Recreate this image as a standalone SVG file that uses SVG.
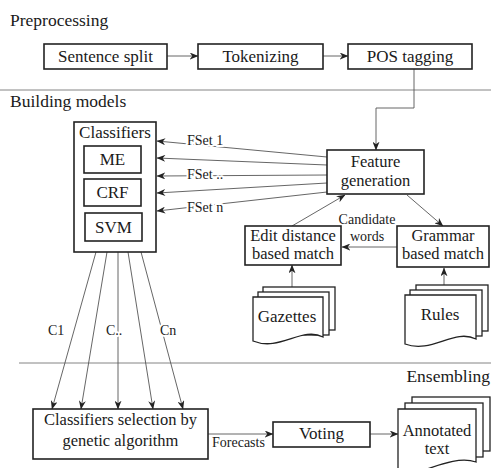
<svg xmlns="http://www.w3.org/2000/svg" width="491" height="468" viewBox="0 0 491 468" font-family="'Liberation Serif', 'DejaVu Serif', serif">
<style>
text{font-family:'Liberation Serif','DejaVu Serif',serif;fill:#1a1a1a}
.t{font-size:17px;text-anchor:middle}
.t2{font-size:16.5px;text-anchor:middle}
.h{font-size:17.5px}
.l{font-size:14px;paint-order:stroke;stroke:#fff;stroke-width:4px;stroke-linejoin:round}
.box{fill:#fff;stroke:#222;stroke-width:1.6}
.doc{fill:#fff;stroke:#222;stroke-width:1.3}
.c{fill:none;stroke:#555;stroke-width:0.9}
.a{marker-end:url(#ah)}
.sep{stroke:#777;stroke-width:0.9}
</style>
<defs>
<marker id="ah" viewBox="0 0 10 8" refX="9.5" refY="4" markerWidth="9" markerHeight="7" orient="auto" markerUnits="userSpaceOnUse">
<path d="M0,0 L10,4 L0,8 L3,4 Z" fill="#222"/>
</marker>
</defs>

<text class="h" x="10" y="26">Preprocessing</text>
<text class="h" x="10" y="107">Building models</text>
<text class="h" x="490" y="382" text-anchor="end">Ensembling</text>
<line class="sep" x1="0" y1="90" x2="491" y2="90"/>
<line class="sep" x1="19" y1="363" x2="491" y2="363"/>

<g id="connectors">
<line class="c a" x1="167" y1="56" x2="198" y2="56"/>
<line class="c a" x1="323" y1="56" x2="348" y2="56"/>
<polyline class="c a" points="414,69 414,108 376,108 376,150"/>
<line class="c a" x1="327" y1="157" x2="157" y2="141"/>
<line class="c a" x1="327" y1="165" x2="157" y2="158"/>
<line class="c a" x1="327" y1="175" x2="157" y2="176"/>
<line class="c a" x1="327" y1="183" x2="157" y2="193"/>
<line class="c a" x1="327" y1="192" x2="157" y2="211"/>
<text class="l" x="187" y="145">FSet 1</text>
<text class="l" x="187" y="179">FSet ..</text>
<text class="l" x="187" y="212">FSet n</text>
<line class="c a" x1="292" y1="226" x2="345" y2="195"/>
<line class="c a" x1="407" y1="195" x2="443" y2="226"/>
<line class="c a" x1="397" y1="247" x2="342" y2="247"/>
<text class="l" x="367" y="224" text-anchor="middle">Candidate</text>
<text class="l" x="367" y="241" text-anchor="middle" style="stroke:none">words</text>
<line class="c a" x1="292" y1="287" x2="292" y2="265"/>
<line class="c a" x1="444" y1="285" x2="444" y2="268"/>
<line class="c a" x1="96" y1="252" x2="52" y2="409"/>
<line class="c a" x1="107" y1="252" x2="81" y2="409"/>
<line class="c a" x1="118" y1="252" x2="118" y2="409"/>
<line class="c a" x1="128" y1="252" x2="153" y2="409"/>
<line class="c a" x1="141" y1="252" x2="183" y2="409"/>
<text class="l" x="48" y="335">C1</text>
<text class="l" x="106" y="335">C..</text>
<text class="l" x="160" y="335">Cn</text>
<line class="c a" x1="208" y1="434" x2="273" y2="434"/>
<text class="l" x="212" y="447" style="stroke:none">Forecasts</text>
<line class="c a" x1="370" y1="434" x2="398" y2="434"/>
</g>

<g id="sentence-split">
<rect class="box" x="44" y="44" width="123" height="25"/>
<text class="t" x="105.5" y="62">Sentence split</text>
</g>
<g id="tokenizing">
<rect class="box" x="198" y="44" width="125" height="25"/>
<text class="t" x="260.5" y="62">Tokenizing</text>
</g>
<g id="pos-tagging">
<rect class="box" x="348" y="44" width="124" height="25"/>
<text class="t" x="410" y="62">POS tagging</text>
</g>

<g id="classifiers">
<rect class="box" x="74" y="122" width="82" height="130"/>
<text class="t" x="115" y="138">Classifiers</text>
<g id="me">
<rect class="box" x="84" y="146" width="57" height="27"/>
<text class="t" x="112.5" y="165">ME</text>
</g>
<g id="crf">
<rect class="box" x="84" y="179" width="57" height="27"/>
<text class="t" x="112.5" y="198">CRF</text>
</g>
<g id="svm">
<rect class="box" x="85" y="213" width="57" height="28"/>
<text class="t" x="113.5" y="233">SVM</text>
</g>
</g>

<g id="feature-generation">
<rect class="box" x="327" y="150" width="97" height="44"/>
<text class="t2" x="375.5" y="167">Feature</text>
<text class="t2" x="375.5" y="186">generation</text>
</g>

<g id="edit-distance">
<rect class="box" x="245" y="226" width="96" height="39"/>
<text class="t2" x="293" y="241">Edit distance</text>
<text class="t2" x="293" y="259">based match</text>
</g>

<g id="grammar">
<rect class="box" x="397" y="226" width="92" height="41"/>
<text class="t2" x="443" y="241">Grammar</text>
<text class="t2" x="443" y="259">based match</text>
</g>

<g id="gazettes">
<rect class="doc" x="263" y="287" width="72" height="43"/>
<rect class="doc" x="258" y="292" width="71" height="43"/>
<path class="doc" d="M253,297 H323 V337 C302,326 280,352 253,341 Z"/>
<text class="t" x="287" y="322">Gazettes</text>
</g>

<g id="rules">
<rect class="doc" x="416" y="285" width="72" height="46"/>
<rect class="doc" x="410" y="290" width="72" height="46"/>
<path class="doc" d="M405,295 H476 V339 C454,328 432,354 405,344 Z"/>
<text class="t" x="440" y="320">Rules</text>
</g>

<g id="selection">
<rect class="box" x="33" y="409" width="175" height="50"/>
<text class="t2" x="120.5" y="425">Classifiers selection by</text>
<text class="t2" x="120.5" y="446">genetic algorithm</text>
</g>

<g id="voting">
<rect class="box" x="273" y="422" width="97" height="25"/>
<text class="t" x="321.5" y="439">Voting</text>
</g>

<g id="annotated-text">
<rect class="doc" x="412" y="397" width="78" height="54"/>
<rect class="doc" x="405" y="403" width="78" height="54"/>
<path class="doc" d="M398,409 H476 V462 C455,455 430,470 398,478 Z"/>
<text class="t2" x="437" y="436">Annotated</text>
<text class="t2" x="437" y="454">text</text>
</g>
</svg>
